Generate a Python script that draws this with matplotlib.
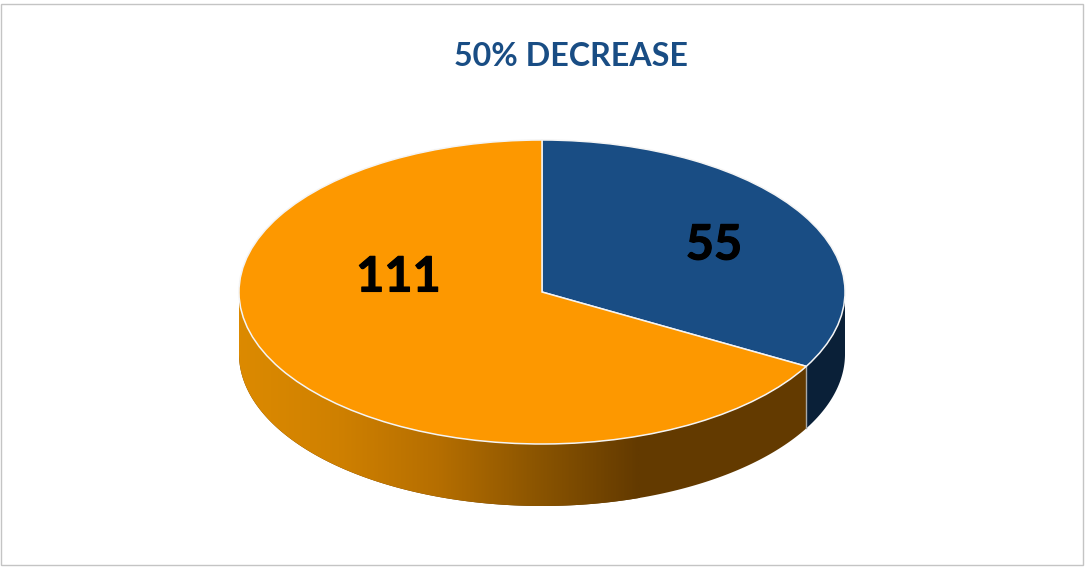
#!/usr/bin/env python3
import numpy as np
import matplotlib
matplotlib.use("Agg")
import matplotlib.pyplot as plt
import matplotlib.patheffects as pe
from matplotlib.colors import LinearSegmentedColormap
from matplotlib.patches import Polygon, Rectangle

title = "50% DECREASE"
values = [55, 111]
colors = ["#194d84", "#fd9800"]

W, H = 1085, 568
CX, CY = 542, 292    # pie centre, px
RX, RY = 303, 152    # top ellipse radii, px
DEPTH = 62 / RY

plt.rcParams['font.family'] = ['Lato', 'DejaVu Sans']

fig = plt.figure(figsize=(W / 100, H / 100), dpi=100, facecolor="white")
ax = fig.add_axes([0, 0, 1, 1])

wedges, _ = ax.pie(values, colors=colors, startangle=90, counterclock=False,
                   wedgeprops=dict(edgecolor="#f4f4f4", linewidth=1.1, zorder=3))
ax.set_aspect("auto")
ax.axis("off")

# angle where the blue slice stops, going clockwise from 12 o'clock
split = 90 - 360 * values[0] / sum(values)


def wall(start, stop):
    t = np.radians(np.linspace(start, stop, 200))
    top = np.column_stack([np.cos(t), np.sin(t)])
    bottom = (top - [0, DEPTH])[::-1]
    return np.vstack([top, bottom])


orange_side = LinearSegmentedColormap.from_list("orange_side", [
    (0.00, "#dc8a00"), (0.25, "#cf8000"), (0.50, "#b56e00"),
    (0.75, "#8a5400"), (1.00, "#633a00")])
ramp = np.linspace(0, 1, 400)[None, :]

x0, x1 = -1.0, (640 - CX) / RX
im = ax.imshow(ramp, cmap=orange_side, aspect="auto", zorder=1,
               extent=[x0, x1, -1 - DEPTH, 1], interpolation="bilinear")
im.set_clip_path(Polygon(wall(180, 360 + split), transform=ax.transData))
ax.fill(*wall(180, 360 + split).T, color="#633a00", lw=0, zorder=0.5)
ax.fill(*wall(360 + split, 360).T, color="#0a2038", lw=0, zorder=1)
ax.set_xlim((0 - CX) / RX, (W - CX) / RX)
ax.set_ylim((CY - H) / RY, CY / RY)

# seam between the two side walls
sx, sy = np.cos(np.radians(split)), np.sin(np.radians(split))
ax.plot([sx, sx], [sy, sy - DEPTH], color="#a8a8a8", lw=1, zorder=2)

fig.text(570.5 / W, 1 - 57 / H, title, color="#194d84", fontsize=23.2,
         fontweight="bold", ha="center", va="center")
heavy = [pe.withStroke(linewidth=0.8, foreground="black")]
fig.text(714 / W, 1 - 245 / H, str(values[0]), color="black", fontsize=35,
         fontweight="bold", ha="center", va="center", path_effects=heavy)
fig.text(398.5 / W, 1 - 277 / H, str(values[1]), color="black", fontsize=35,
         fontweight="bold", ha="center", va="center", path_effects=heavy)

# thin frame of the chart area
fig.add_artist(Rectangle((1 / W, 1 - 565 / H), 1082 / W, 561 / H, fill=False,
                         edgecolor="#c4c4c4", linewidth=1,
                         transform=fig.transFigure))

fig.savefig("out.png", dpi=100)
